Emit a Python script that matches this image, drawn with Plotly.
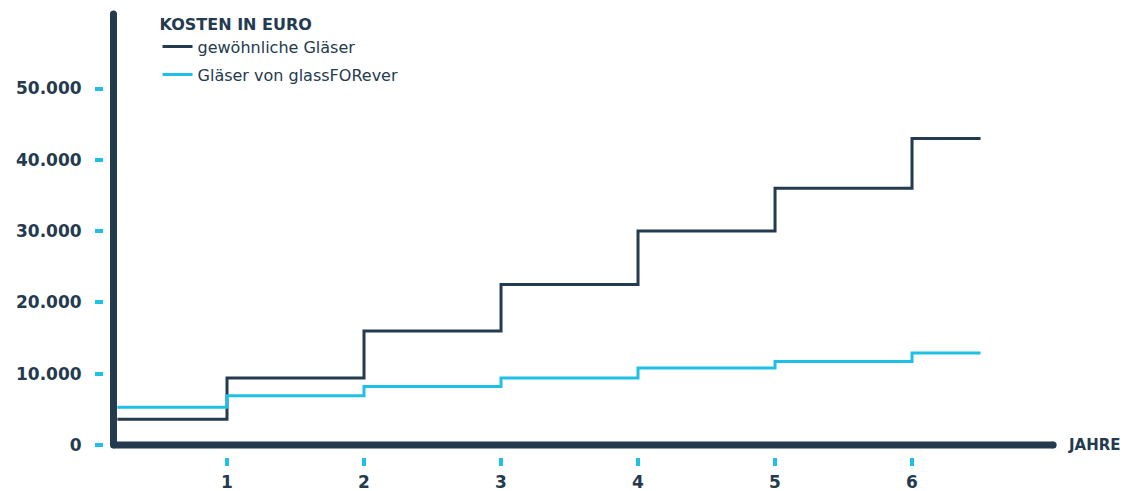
import plotly.graph_objects as go

# ---- data ----
years = [0.2, 1, 2, 3, 4, 5, 6, 6.5]
normal_glasses = [3600, 9400, 16000, 22500, 30000, 36000, 43000, 43000]
glassforever = [5300, 6900, 8200, 9400, 10800, 11700, 12900, 12900]
series_names = ["gewöhnliche Gläser", "Gläser von glassFORever"]
x_ticks = [1, 2, 3, 4, 5, 6]
y_ticks = [0, 10000, 20000, 30000, 40000, 50000]
y_tick_labels = ["0", "10.000", "20.000", "30.000", "40.000", "50.000"]
legend_title = "KOSTEN IN EURO"
x_title = "JAHRE"

DARK = "#243a4e"
CYAN = "#1fc0e6"
FONT = "DejaVu Sans"

fig = go.Figure()
fig.add_trace(go.Scatter(x=years, y=normal_glasses, name=series_names[0], mode="lines",
                         legendgroup="a",
                         line=dict(color=DARK, width=3, shape="hv")))
fig.add_trace(go.Scatter(x=years, y=glassforever, name=series_names[1], mode="lines",
                         legendgroup="b",
                         line=dict(color=CYAN, width=3, shape="hv")))

# axis lines (decorative thick lines)
X_AXIS_X = 0.1715
Y_TOP = 60450
X_END = 7.03
fig.add_shape(type="line", xref="x", yref="y", x0=X_AXIS_X, x1=X_AXIS_X, y0=0, y1=Y_TOP,
              line=dict(color=DARK, width=7), layer="above")
fig.add_shape(type="line", xref="x", yref="y", x0=X_AXIS_X, x1=X_END, y0=0, y1=0,
              line=dict(color=DARK, width=7), layer="above")
for (cx, cy) in [(X_AXIS_X, 0), (X_AXIS_X, Y_TOP), (X_END, 0)]:
    fig.add_shape(type="circle", xref="x", yref="y", xsizemode="pixel", ysizemode="pixel",
                  xanchor=cx, yanchor=cy, x0=-3.5, x1=3.5, y0=-3.5, y1=3.5,
                  fillcolor=DARK, line=dict(width=0), layer="above")

fig.add_annotation(text="<b>" + x_title + "</b>", xref="paper", yref="y", x=1.0063, y=0,
                   xanchor="left", yanchor="middle", showarrow=False,
                   font=dict(family=FONT, size=15, color=DARK))

fig.update_layout(
    width=1121, height=483,
    margin=dict(l=96, r=69, t=0, b=34, autoexpand=False),
    paper_bgcolor="white", plot_bgcolor="white",
    font=dict(family=FONT, color=DARK),
    legend=dict(
        title=dict(text="<b>" + legend_title + "</b>", font=dict(family=FONT, size=16, color=DARK)),
        x=0.056, y=0.998, xanchor="left", yanchor="top",
        font=dict(family=FONT, size=16, color=DARK),
        bgcolor="rgba(0,0,0,0)", tracegroupgap=4,
    ),
    xaxis=dict(range=[0.1022, 7.080], tickvals=x_ticks, showgrid=False, zeroline=False,
               showline=False, ticks="outside", ticklen=8, tickwidth=3.5, tickcolor=CYAN,
               ticklabelstandoff=2, automargin=False,
               tickfont=dict(family=FONT, size=17, color=DARK, weight="bold")),
    yaxis=dict(range=[-1683, 61290], tickvals=y_ticks, ticktext=y_tick_labels, showgrid=False,
               zeroline=False, showline=False, ticks="outside", ticklen=8, tickwidth=3.5,
               tickcolor=CYAN, ticklabelstandoff=10, automargin=False,
               tickfont=dict(family=FONT, size=17, color=DARK, weight="bold")),
)

fig.write_html("out.html")
